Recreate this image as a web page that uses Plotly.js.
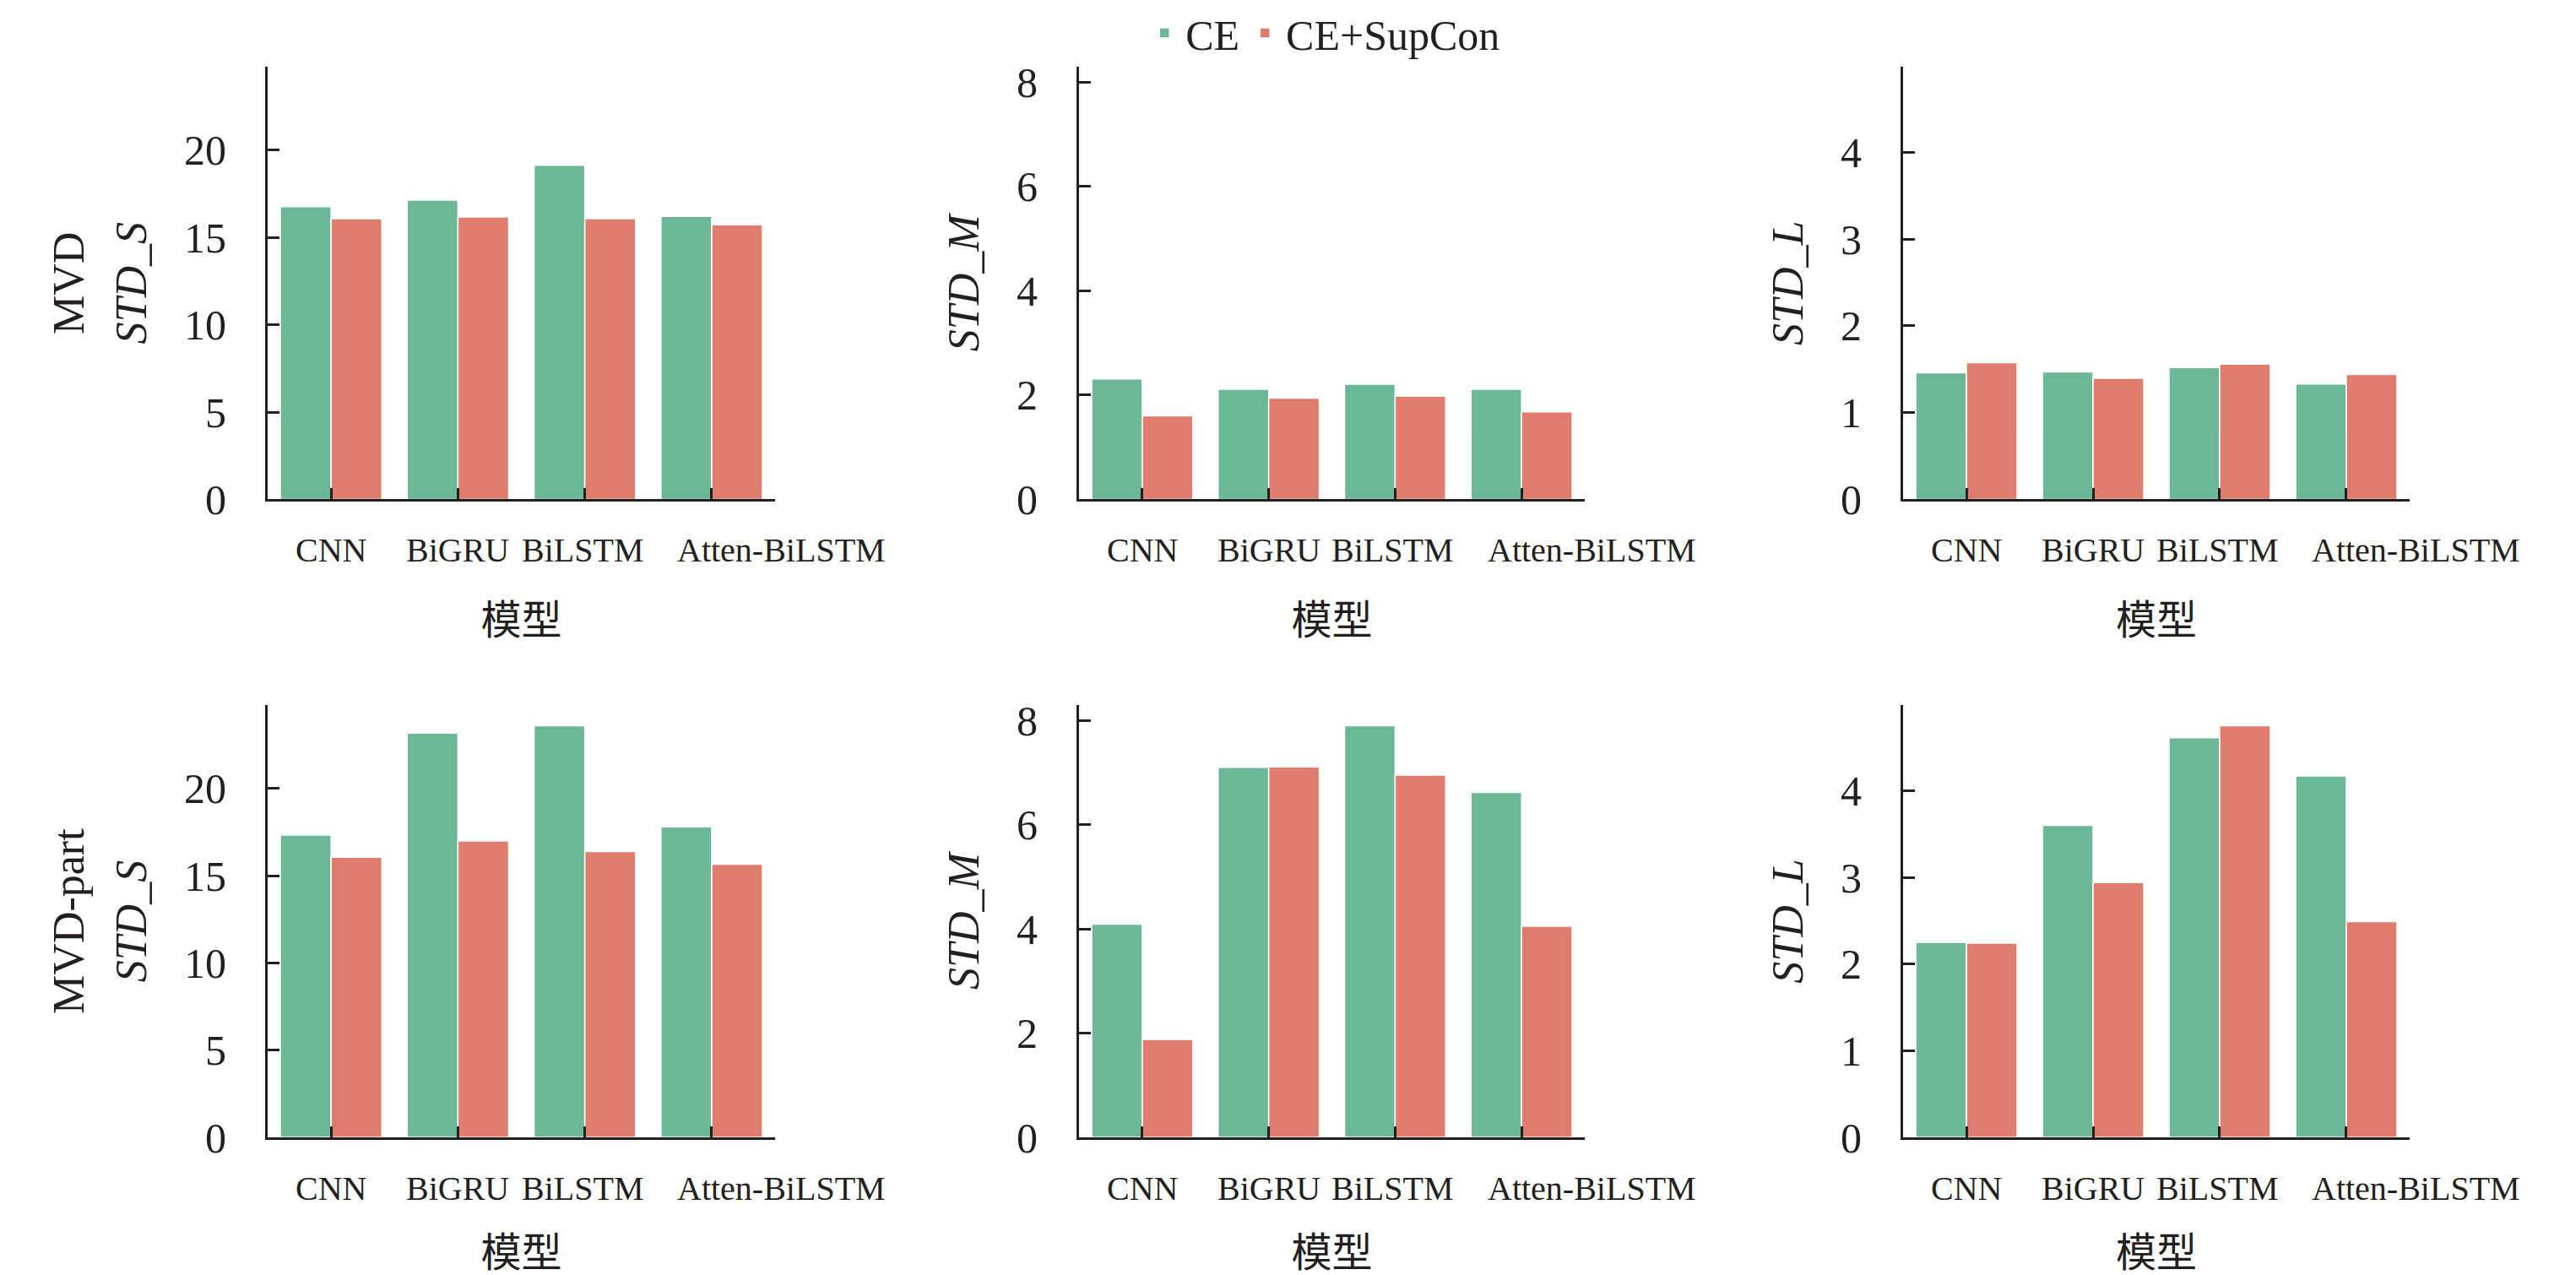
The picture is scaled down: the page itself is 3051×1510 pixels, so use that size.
<!DOCTYPE html>
<html>
<head>
<meta charset="utf-8">
<script src="https://cdn.plot.ly/plotly-3.0.1.min.js"></script>
<style>
  html, body { margin: 0; padding: 0; background: #fff; }
  #chart { width: 3051px; height: 1510px; }
</style>
</head>
<body>
<div id="chart"></div>
<script>
const models = ['CNN', 'BiGRU', 'BiLSTM', 'Atten-BiLSTM'];

// MVD (top row)
const mvdS_CE  = [16.77, 17.14, 19.13, 16.21];
const mvdS_Sup = [16.07, 16.17, 16.07, 15.73];
const mvdM_CE  = [2.31, 2.11, 2.21, 2.11];
const mvdM_Sup = [1.60, 1.94, 1.98, 1.68];
const mvdL_CE  = [1.46, 1.47, 1.52, 1.33];
const mvdL_Sup = [1.575, 1.395, 1.56, 1.44];

// MVD-part (bottom row)
const partS_CE  = [17.33, 23.17, 23.60, 17.80];
const partS_Sup = [16.06, 16.99, 16.38, 15.66];
const partM_CE  = [4.09, 7.10, 7.90, 6.62];
const partM_Sup = [1.88, 7.11, 6.95, 4.05];
const partL_CE  = [2.25, 3.60, 4.61, 4.17];
const partL_Sup = [2.24, 2.94, 4.75, 2.49];

const rowNames = ['MVD', 'MVD-part'];
const colTitles = ['STD_S', 'STD_M', 'STD_L'];
const xTitle = '模型';

const green = '#6bb798';
const red = '#e07c6e';
const ink = '#231f20';
const font = 'Liberation Serif, Times New Roman, Noto Sans CJK SC, serif';

// panel positions on the page (paper coords, margins are 0)
const xDomains = [[0.1039, 0.3009], [0.4189, 0.6152], [0.7388, 0.9354]];
const yDomains = [[0.6083, 0.9477], [0.1079, 0.4470]];
// small shift of the category labels as in the original
const labelShift = [0, 0, -3, 83];

const panels = [
  [mvdS_CE, mvdS_Sup], [mvdM_CE, mvdM_Sup], [mvdL_CE, mvdL_Sup],
  [partS_CE, partS_Sup], [partM_CE, partM_Sup], [partL_CE, partL_Sup]
];

// each column shares the y range of both rows
var colMax = [0, 1, 2].map(function (c) {
  return Math.max.apply(null, panels[c][0].concat(panels[c][1], panels[c + 3][0], panels[c + 3][1]));
});

var traces = [];
var layout = {
  width: 3051,
  height: 1510,
  margin: {l: 0, r: 0, t: 0, b: 0},
  paper_bgcolor: '#fff',
  plot_bgcolor: '#fff',
  font: {family: font, color: ink, size: 40},
  barmode: 'group',
  bargap: 0.2,
  bargroupgap: 0,
  showlegend: true,
  legend: {
    orientation: 'h',
    x: 0.514, xanchor: 'center',
    y: 1, yanchor: 'top',
    font: {size: 50, family: font},
    itemwidth: 40,
    bgcolor: 'rgba(0,0,0,0)'
  },
  annotations: []
};

for (var i = 0; i < 6; i++) {
  var row = Math.floor(i / 3);
  var col = i % 3;
  var n = i === 0 ? '' : String(i + 1);
  var xa = 'x' + n, ya = 'y' + n;

  traces.push({
    type: 'bar', name: 'CE', x: models, y: panels[i][0],
    xaxis: xa, yaxis: ya,
    marker: {color: green, line: {color: '#fff', width: 1.5}},
    legendgroup: 'ce', showlegend: i === 0, hoverinfo: 'skip'
  });
  traces.push({
    type: 'bar', name: 'CE+SupCon', x: models, y: panels[i][1],
    xaxis: xa, yaxis: ya,
    marker: {color: red, line: {color: '#fff', width: 1.5}},
    legendgroup: 'sup', showlegend: i === 0, hoverinfo: 'skip'
  });

  layout['xaxis' + n] = {
    domain: xDomains[col],
    anchor: ya,
    type: 'category',
    range: [-0.5, 3.5],
    showline: true, linecolor: ink, linewidth: 3,
    ticks: 'inside', ticklen: 13, tickwidth: 3, tickcolor: ink,
    showticklabels: false,
    showgrid: false, zeroline: false,
    fixedrange: true,
    title: {text: xTitle, font: {size: 48, family: font}, standoff: 124}
  };
  layout['yaxis' + n] = {
    domain: yDomains[row],
    anchor: xa,
    range: [0, colMax[col] * 1.05],
    dtick: [5, 2, 1][col],
    showline: true, linecolor: ink, linewidth: 3,
    ticks: 'inside', ticklen: 14, tickwidth: 3, tickcolor: ink,
    tickfont: {size: 50, family: font},
    ticklabelstandoff: 36,
    showgrid: false, zeroline: false,
    fixedrange: true,
    title: {text: '<i>' + colTitles[col] + '</i>', font: {size: 52, family: font}, standoff: 28}
  };

  // category labels
  for (var k = 0; k < models.length; k++) {
    layout.annotations.push({
      text: models[k],
      x: models[k], xref: xa,
      y: 0, yref: ya + ' domain',
      xanchor: 'center', yanchor: 'top',
      xshift: labelShift[k], yshift: -36,
      showarrow: false,
      font: {size: 40, family: font, color: ink}
    });
  }
}

// row names left of the first column
for (var r = 0; r < 2; r++) {
  layout.annotations.push({
    text: rowNames[r],
    x: 0.0265, xref: 'paper',
    y: (yDomains[r][0] + yDomains[r][1]) / 2, yref: 'paper',
    xanchor: 'center', yanchor: 'middle',
    textangle: -90,
    showarrow: false,
    font: {size: 52, family: font, color: ink}
  });
}

Plotly.newPlot('chart', traces, layout, {displayModeBar: false, staticPlot: true});
</script>
</body>
</html>
